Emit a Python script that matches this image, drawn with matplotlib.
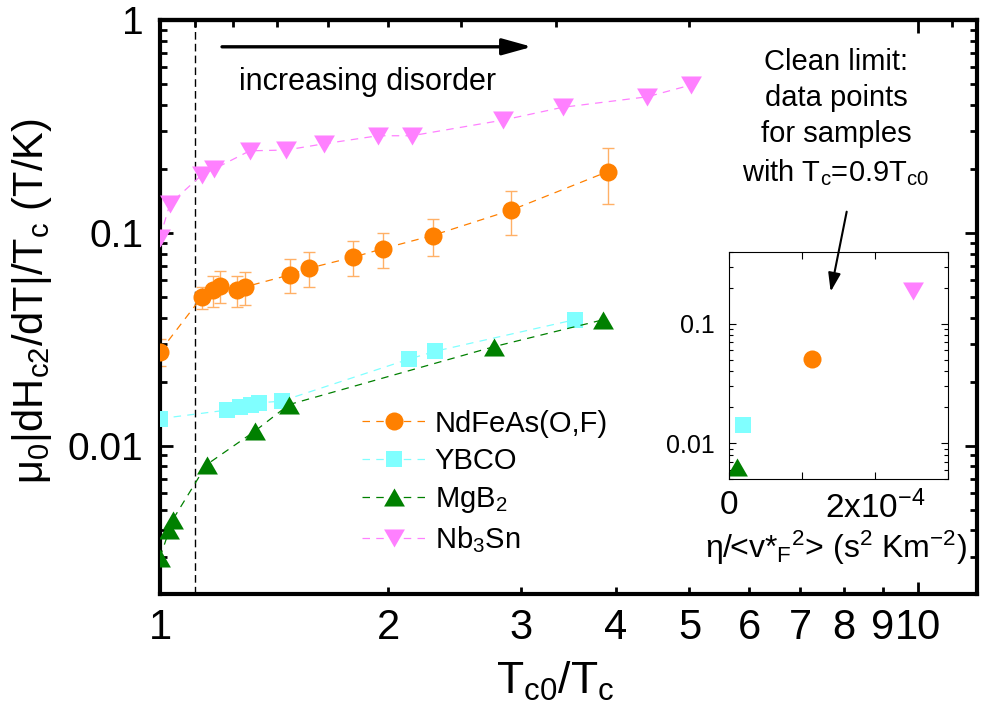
import matplotlib
matplotlib.use('Agg')
import matplotlib.pyplot as plt
from matplotlib.ticker import FixedLocator, FuncFormatter, NullFormatter
from matplotlib.path import Path

plt.rcParams['font.family'] = ['Liberation Sans', 'DejaVu Sans']
plt.rcParams['mathtext.fontset'] = 'custom'
plt.rcParams['mathtext.rm'] = 'Liberation Sans'
plt.rcParams['mathtext.it'] = 'Liberation Sans:italic'
plt.rcParams['mathtext.default'] = 'regular'

# ---- data ----
nd_x = [1.0, 1.135, 1.175, 1.20, 1.264, 1.294, 1.484, 1.573, 1.80, 1.97, 2.29, 2.91, 3.90]
nd_y = [0.0277, 0.0499, 0.0539, 0.0564, 0.0539, 0.0557, 0.0635, 0.0682, 0.0769, 0.0843, 0.0972, 0.128, 0.194]
nd_err = [0.004, 0.006, 0.0089, 0.0095, 0.009, 0.010, 0.0115, 0.0128, 0.0143, 0.016, 0.019, 0.030, 0.057]

ybco_x = [1.0, 1.225, 1.275, 1.32, 1.35, 1.447, 2.13, 2.31, 3.53]
ybco_y = [0.0134, 0.0147, 0.0152, 0.0156, 0.0159, 0.0162, 0.0255, 0.0278, 0.0391]

mgb2_x = [1.0, 1.029, 1.04, 1.152, 1.334, 1.48, 2.76, 3.85]
mgb2_y = [0.00298, 0.00403, 0.0045, 0.00814, 0.0117, 0.0156, 0.0292, 0.0391]

nb3sn_x = [1.0, 1.031, 1.135, 1.18, 1.314, 1.467, 1.645, 1.94, 2.15, 2.84, 3.40, 4.40, 5.03]
nb3sn_y = [0.095, 0.137, 0.187, 0.20, 0.243, 0.245, 0.262, 0.286, 0.286, 0.339, 0.389, 0.436, 0.496]

# inset: clean-limit points (Tc = 0.9 Tc0)
inset_x = [1.14e-4, 0.19e-4, 0.105e-4, 2.53e-4]
inset_y = [0.0503, 0.0141, 0.0063, 0.186]

names = ['NdFeAs(O,F)', 'YBCO', 'MgB$_2$', 'Nb$_3$Sn']
colors = ['#ff8000', '#80ffff', '#008000', '#ff80ff']
err_color = '#ffb066'

x_major = [1, 10]
x_minor = [2, 3, 4, 5, 6, 7, 8, 9]
top_ratio_minor = [0.9, 0.8, 0.7, 0.6, 0.5, 0.4, 0.3, 0.2, 0.09]
top_ratio_major = [0.1]
clean_ratio = 0.9

# equilateral-ish triangles like Origin's
tri_up = Path([(-1, -0.866), (1, -0.866), (0, 0.866), (-1, -0.866)], closed=True)
tri_dn = Path([(-1, 0.866), (1, 0.866), (0, -0.866), (-1, 0.866)], closed=True)
markers = ['o', 's', tri_up, tri_dn]
msizes = [13, 12, 15, 15]
dash = (0, (6, 5))

fig = plt.figure(figsize=(9.82, 7.13), dpi=100)
ax = fig.add_axes([0.1629, 0.1662, 0.8325, 0.8057])

series = [(nd_x, nd_y), (ybco_x, ybco_y), (mgb2_x, mgb2_y), (nb3sn_x, nb3sn_y)]
ax.errorbar(nd_x, nd_y, yerr=nd_err, fmt='none', ecolor=err_color,
            elinewidth=1, capsize=4, capthick=1, zorder=2)
for (xs, ys), name, c, m, s in zip(series, names, colors, markers, msizes):
    ax.plot(xs, ys, ls=dash, lw=0.9, color=c, marker=m, ms=s,
            mfc=c, mec=c, mew=0, label=name, zorder=3)

ax.axvline(1 / clean_ratio, color='k', lw=1, ls=(0, (5.5, 3)), zorder=1)

ax.set_xscale('log')
ax.set_yscale('log')
ax.set_xlim(1, 12)
ax.set_ylim(0.002, 1)

fmt = FuncFormatter(lambda v, p: f'{v:g}')
ax.xaxis.set_major_locator(FixedLocator(x_major))
ax.xaxis.set_minor_locator(FixedLocator(x_minor))
ax.xaxis.set_major_formatter(fmt)
ax.xaxis.set_minor_formatter(fmt)
ax.yaxis.set_major_locator(FixedLocator([0.01, 0.1, 1]))
ax.yaxis.set_major_formatter(fmt)
ax.yaxis.set_minor_formatter(NullFormatter())

for sp in ax.spines.values():
    sp.set_linewidth(3)
ax.tick_params(which='both', direction='in', top=False, right=True, width=2)
ax.tick_params(which='major', length=9)
ax.tick_params(which='minor', length=5)
ax.tick_params(axis='x', which='both', labelsize=30, pad=10)
ax.tick_params(axis='y', which='both', labelsize=28, pad=12)

# top axis: ticks at Tc/Tc0 values
sec = ax.secondary_xaxis('top')
sec.xaxis.set_major_locator(FixedLocator([1 / r for r in top_ratio_major]))
sec.xaxis.set_minor_locator(FixedLocator([1 / r for r in top_ratio_minor]))
sec.tick_params(which='both', direction='in', width=2, labeltop=False)
sec.tick_params(which='major', length=9)
sec.tick_params(which='minor', length=5)
sec.spines['top'].set_linewidth(3)

ax.set_xlabel('T$_{c0}$/T$_c$', fontsize=32, va='center')
ax.xaxis.set_label_coords(0.483, -0.152)
ax.set_ylabel('μ$_0$|dH$_{c2}$/dT|/T$_c$ (T/K)', fontsize=30, va='center')
ax.yaxis.set_label_coords(-0.157, 0.511)

leg = ax.legend(loc='upper left', bbox_to_anchor=(0.247, 0.322), frameon=False,
                fontsize=21, handlelength=2.2, handletextpad=0.3,
                labelspacing=0.33, borderpad=0, borderaxespad=0, numpoints=1)

ax.annotate('', xy=(0.455, 0.9534), xytext=(0.0759, 0.9534),
            xycoords='axes fraction', textcoords='axes fraction',
            arrowprops=dict(arrowstyle='-|>,head_length=0.9,head_width=0.25',
                            lw=2.4, color='k', shrinkA=0, shrinkB=0,
                            mutation_scale=20))
ax.text(0.2534, 0.878, 'increasing disorder', transform=ax.transAxes,
        fontsize=22, ha='center', va='baseline')

fig.text(0.8513, 0.933, 'Clean limit:\ndata points\nfor samples\nwith T$_c$=0.9T$_{c0}$',
         fontsize=21, ha='center', va='top', linespacing=1.38)

# inset
ax_in = fig.add_axes([0.7424, 0.3278, 0.2227, 0.3192])
for xi, yi, c, m, s in zip(inset_x, inset_y, colors, markers, msizes):
    ax_in.plot([xi], [yi], ls='none', marker=m, ms=s, mfc=c, mec=c, mew=0)
ax_in.set_yscale('log')
ax_in.set_xlim(0, 3e-4)
ax_in.set_ylim(0.005, 0.4)
ax_in.set_xticks([0, 1e-4, 2e-4, 3e-4], labels=['0', '', '2x10$^{-4}$', ''])
ax_in.yaxis.set_major_locator(FixedLocator([0.01, 0.1]))
ax_in.yaxis.set_major_formatter(fmt)
ax_in.yaxis.set_minor_formatter(NullFormatter())
for sp in ax_in.spines.values():
    sp.set_linewidth(0.8)
ax_in.tick_params(which='both', direction='in', top=True, right=True, width=0.8)
ax_in.tick_params(which='major', length=5)
ax_in.tick_params(which='minor', length=3)
ax_in.tick_params(axis='x', labelsize=24, pad=8)
ax_in.tick_params(axis='y', labelsize=18, pad=10)
ax_in.set_xlabel('η/<v*$_F$$^2$> (s$^2$ Km$^{-2}$)', fontsize=23, va='center')
ax_in.xaxis.set_label_coords(0.49, -0.302)

ax_in.annotate('', xy=(0.8459, 0.5909), xytext=(0.8622, 0.7031),
               xycoords='figure fraction', textcoords='figure fraction',
               annotation_clip=False,
               arrowprops=dict(arrowstyle='-|>,head_length=0.75,head_width=0.25',
                               lw=1.5, color='k', shrinkA=0, shrinkB=0,
                               mutation_scale=15))

fig.savefig('out.png', dpi=100)
